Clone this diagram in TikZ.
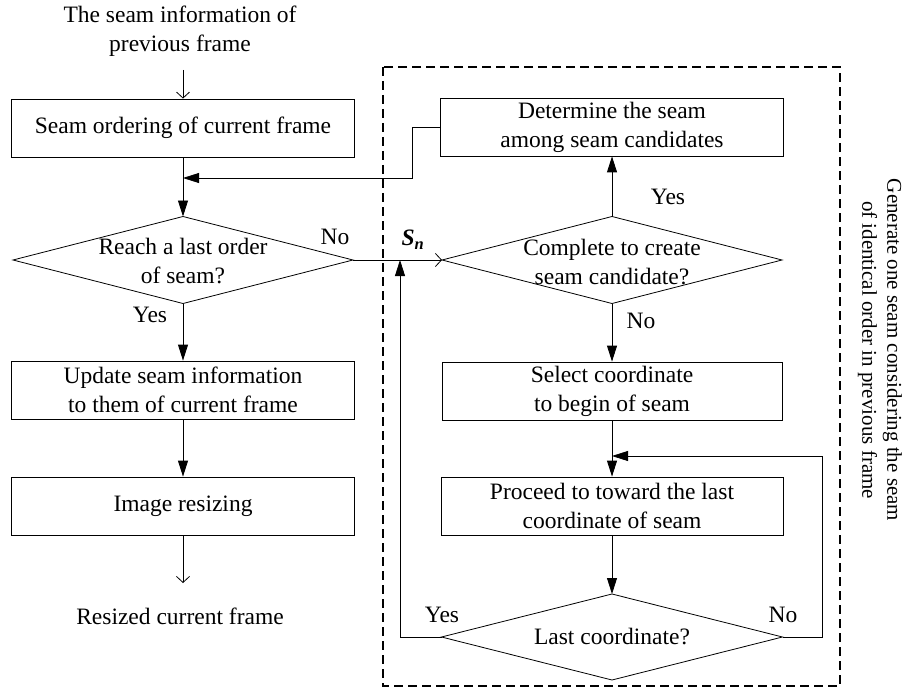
\documentclass[tikz,border=0pt]{standalone}
\usepackage{fontspec}
\setmainfont{Liberation Serif}
\usepackage{tikz}
\usetikzlibrary{arrows.meta,shapes.geometric}

\begin{document}
\begin{tikzpicture}[x=1pt,y=-1pt]
\tikzstyle{every node} = [font = \fontsize{23.5}{29}\selectfont]
\tikzstyle{box} = [draw, line width=0.8pt, minimum width=343pt, minimum height=58pt, align=center, inner sep=0pt]
\tikzstyle{decision} = [draw, line width=0.8pt, diamond, minimum width=340pt, minimum height=87pt, inner sep=0pt, outer sep=0pt]
\tikzstyle{plain} = [align=center]
\tikzstyle{line} = [line width=0.8pt]
\tikzstyle{fullarrow} = [line, -{Triangle[length=16pt,width=10pt]}]
\tikzstyle{openarrow} = [line, -{Straight Barb[length=6pt,width=13pt]}]
\useasboundingbox (0,0) rectangle (904,695);
%left column
		\node [plain] (prev) at (180,31) {The seam information of\\previous frame};
		\node [box] (order) at (183,128) {Seam ordering of current frame};
		\node [decision] (reach) at (183,260) {};
		\node [plain] at (183,261) {Reach a last order\\of seam?};
		\node [box] (update) at (183,390) {Update seam information\\to them of current frame};
		\node [box] (resize) at (183,506) {Image resizing};
		\node [plain] (resized) at (180,616) {Resized current frame};
		\coordinate (prevend) at (183,70);
		\coordinate (outend) at (183,583);
		\coordinate (join) at (183,178);
%right column
		\node [box] (determine) at (612,127) {Determine the seam\\among seam candidates};
		\node [decision] (complete) at (612,260) {};
		\node [plain] at (612,262) {Complete to create\\seam candidate?};
		\node [box, minimum width=340pt] (select) at (612,391) {Select coordinate\\to begin of seam};
		\node [box, minimum width=342pt] (proceed) at (612,506) {Proceed to toward the last\\coordinate of seam};
		\node [decision, minimum width=341pt, minimum height=86pt] (lastcoord) at (612,637) {};
		\node [plain] at (612,637) {Last coordinate?};
		\coordinate (sn) at (400,260);
		\coordinate (loopin) at (612,456);
%connectors
		\draw [openarrow] (prevend) -- (order.north);
		\draw [fullarrow] (order.south) -- (reach.north);
		\draw [fullarrow] (determine.west) -- ++(-28,0) |- (join);
		\draw [openarrow] (reach.east) -- (complete.west);
		\node at (335,237) {No};
		\node at (413,240) {\textbf{\textit{S\textsubscript{n}}}};
		\draw [fullarrow] (reach.south) -- (update.north);
		\node at (150,315) {Yes};
		\draw [fullarrow] (update.south) -- (resize.north);
		\draw [openarrow] (resize.south) -- (outend);
		\draw [fullarrow] (complete.north) -- (determine.south);
		\node at (668,197) {Yes};
		\draw [fullarrow] (complete.south) -- (select.north);
		\node at (641,321) {No};
		\draw [fullarrow] (select.south) -- (proceed.north);
		\draw [fullarrow] (proceed.south) -- (lastcoord.north);
		\draw [fullarrow] (lastcoord.west) -| (sn);
		\node at (442,615) {Yes};
		\draw [fullarrow] (lastcoord.east) -- ++(40,0) |- (loopin);
		\node at (783,615) {No};
%dashed frame
		\draw [line width=2pt, dash pattern=on 9pt off 5pt] (383,67) rectangle (840,686);
		\node [plain, rotate=-90, font=\fontsize{21}{25}\selectfont] (generate) at (880,350) {Generate one seam considering the seam\\of identical order in previous frame};
\end{tikzpicture}
\end{document}
